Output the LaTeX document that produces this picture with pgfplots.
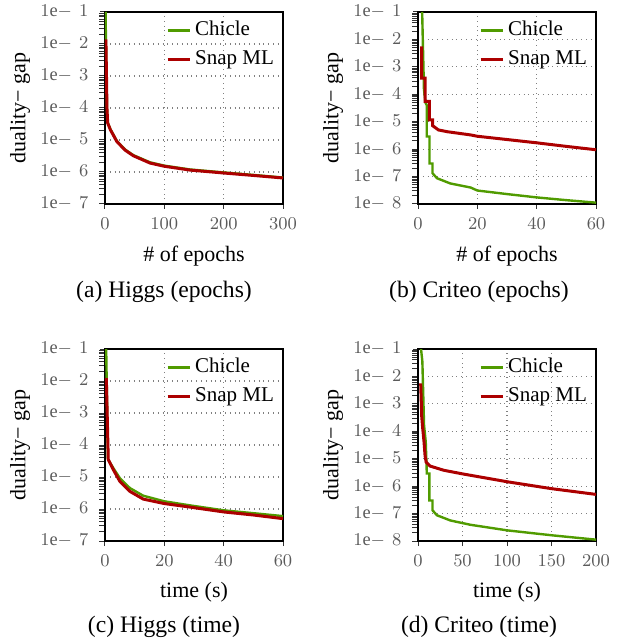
\documentclass[border=0pt]{standalone}
\usepackage{fontspec}
\setmainfont{Liberation Serif}
\usepackage{pgfplots}
\pgfplotsset{compat=1.18}
\definecolor{cgreen}{RGB}{80,155,0}
\definecolor{cred}{RGB}{172,0,0}
\definecolor{tickgrey}{RGB}{90,90,90}
\newcommand{\ee}[1]{$1\mathrm{e}{-}\hspace{3.5pt}#1$}
\pgfplotsset{
  legend image code/.code={\draw[#1, line width=1.5pt] (0pt,0pt) -- (11pt,0pt);},
  every axis/.append style={
    scale only axis, width=89pt, height=96pt,
    axis line style={black, line width=1pt},
    tick align=outside, xtick pos=bottom, ytick pos=left,
    major tick length=2.5pt,
    tick style={black!80, line width=0.5pt},
    ticklabel style={font=\fontsize{9.2}{10}\selectfont, text=tickgrey},
    yticklabel style={xshift=-2.3pt},
    xticklabel style={yshift=-1pt},
    label style={font=\fontsize{11}{13}\selectfont},
    ylabel={duality− gap},
    ylabel style={at={(axis description cs:0,0.5)}, anchor=center, yshift=42.5pt},
    xlabel style={at={(axis description cs:0.5,0)}, anchor=center, yshift=-25.8pt},
    legend style={draw=none, fill=none, at={(0.985,0.985)}, anchor=north east,
      font=\fontsize{10.5}{12}\selectfont, row sep=2pt, inner sep=1pt},
    legend cell align=left,
  },
  mygrid/.style={grid=major, major grid style={dotted, black!50, line width=0.55pt}},
}
\begin{document}
\begin{tikzpicture}
\useasboundingbox (-52.5pt,-218pt) rectangle (257pt,102pt);
% (a) Higgs epochs
\begin{semilogyaxis}[mygrid, at={(0pt,0pt)}, anchor=south west,
  ymin=1e-7, ymax=1e-1, ytick={1e-7,1e-6,1e-5,1e-4,1e-3,1e-2,1e-1},
  yticklabels={\ee7,\ee6,\ee5,\ee4,\ee3,\ee2,\ee1},
  xmin=0, xmax=300, xtick={0,100,200,300}, xlabel={\# of epochs}]
\addplot[cgreen, line width=1.2pt] coordinates {
(1,1e-1) (1.5,1.6e-2) (2.5,1e-3) (3.3,1e-4) (4.5,3.6e-5) (9,2.2e-5) (20,9.3e-6) (34,5.0e-6) (48,3.35e-6) (76,2.0e-6) (100,1.58e-6) (143,1.2e-6) (200,9.7e-7) (250,8.1e-7) (300,6.7e-7)};
\addlegendentry{Chicle}
\addplot[cred, line width=1.5pt] coordinates {
(1.5,1.4e-2) (2.5,1e-3) (3.3,1e-4) (4.5,3.4e-5) (9,2.1e-5) (20,8.9e-6) (34,4.8e-6) (48,3.2e-6) (76,1.9e-6) (100,1.51e-6) (143,1.15e-6) (200,9.3e-7) (250,7.8e-7) (300,6.5e-7)};
\addlegendentry{Snap ML}
\end{semilogyaxis}
% (b) Criteo epochs
\begin{semilogyaxis}[mygrid, at={(156.5pt,0pt)}, anchor=south west,
  ymin=1e-8, ymax=1e-1, ytick={1e-8,1e-7,1e-6,1e-5,1e-4,1e-3,1e-2,1e-1},
  yticklabels={\ee8,\ee7,\ee6,\ee5,\ee4,\ee3,\ee2,\ee1},
  xmin=0, xmax=60, xtick={0,20,40,60}, xlabel={\# of epochs}]
\addplot[cgreen, line width=1.2pt] coordinates {
(1.4,1e-1) (2.0,1.58e-4) (2.5,5.0e-5) (2.95,3.98e-5) (2.95,2.88e-6) (3.86,2.88e-6) (3.86,3.0e-7) (4.9,3.0e-7) (4.9,1.32e-7) (6.4,8.7e-8) (10.9,5.6e-8) (17.7,4.0e-8) (20,3.1e-8) (30,2.3e-8) (40,1.74e-8) (50,1.38e-8) (60,1.12e-8)};
\addlegendentry{Chicle}
\addplot[cred, line width=1.5pt] coordinates {
(1.26,5.6e-3) (1.26,3.9e-4) (2.4,3.9e-4) (2.4,5.5e-5) (3.86,5.5e-5) (3.86,1.17e-5) (4.9,1.17e-5) (4.9,7.2e-6) (6.9,5.0e-6) (10,4.3e-6) (17.7,3.3e-6) (20,2.95e-6) (30,2.24e-6) (40,1.7e-6) (50,1.26e-6) (60,9.5e-7)};
\addlegendentry{Snap ML}
\end{semilogyaxis}
% (c) Higgs time
\begin{semilogyaxis}[mygrid, at={(0pt,-168.5pt)}, anchor=south west,
  ymin=1e-7, ymax=1e-1, ytick={1e-7,1e-6,1e-5,1e-4,1e-3,1e-2,1e-1},
  yticklabels={\ee7,\ee6,\ee5,\ee4,\ee3,\ee2,\ee1},
  xmin=0, xmax=60, xtick={0,20,40,60}, xlabel={time (s)}]
\addplot[cgreen, line width=1.2pt] coordinates {
(0.4,1e-1) (1.0,3.6e-5) (2.8,1.9e-5) (5.05,9.1e-6) (8.4,4.5e-6) (12.9,2.6e-6) (20,1.74e-6) (28.6,1.3e-6) (40,9.1e-7) (50,7.4e-7) (60,6e-7)};
\addlegendentry{Chicle}
\addplot[cred, line width=1.5pt] coordinates {
(0.45,1.23e-2) (1.1,3.5e-5) (2.8,1.7e-5) (5.05,7.2e-6) (8.4,3.55e-6) (12.9,2.04e-6) (20,1.48e-6) (28.6,1.15e-6) (40,8.1e-7) (50,6.5e-7) (60,5e-7)};
\addlegendentry{Snap ML}
\end{semilogyaxis}
% (d) Criteo time
\begin{semilogyaxis}[mygrid, at={(156.5pt,-168.5pt)}, anchor=south west,
  ymin=1e-8, ymax=1e-1, ytick={1e-8,1e-7,1e-6,1e-5,1e-4,1e-3,1e-2,1e-1},
  yticklabels={\ee8,\ee7,\ee6,\ee5,\ee4,\ee3,\ee2,\ee1},
  xmin=0, xmax=200, xtick={0,50,100,150,200}, xlabel={time (s)}]
\addplot[cgreen, line width=1.2pt] coordinates {
(3.4,1e-1) (4.9,3.5e-2) (6.8,1.66e-4) (8.7,4.1e-5) (9.9,2.88e-6) (12.8,2.88e-6) (12.8,3.0e-7) (16.3,3.0e-7) (16.3,1.32e-7) (21.2,8.7e-8) (36.4,5.6e-8) (59,3.9e-8) (100,2.45e-8) (150,1.62e-8) (200,1.12e-8)};
\addlegendentry{Chicle}
\addplot[cred, line width=1.5pt] coordinates {
(3.0,5.6e-3) (4.2,3.4e-4) (5.3,1.26e-4) (6.8,4e-5) (7.9,1.32e-5) (9.1,7.6e-6) (13.6,5.4e-6) (28.8,3.8e-6) (50,2.8e-6) (100,1.45e-6) (150,8.1e-7) (200,5e-7)};
\addlegendentry{Snap ML}
\end{semilogyaxis}
\node[font=\fontsize{11.8}{14}\selectfont] at (29.5pt,-44pt) {(a) Higgs (epochs)};
\node[font=\fontsize{11.8}{14}\selectfont] at (187pt,-44pt) {(b) Criteo (epochs)};
\node[font=\fontsize{11.8}{14}\selectfont] at (29.5pt,-211.5pt) {(c) Higgs (time)};
\node[font=\fontsize{11.8}{14}\selectfont] at (187pt,-211.5pt) {(d) Criteo (time)};
\end{tikzpicture}
\end{document}
